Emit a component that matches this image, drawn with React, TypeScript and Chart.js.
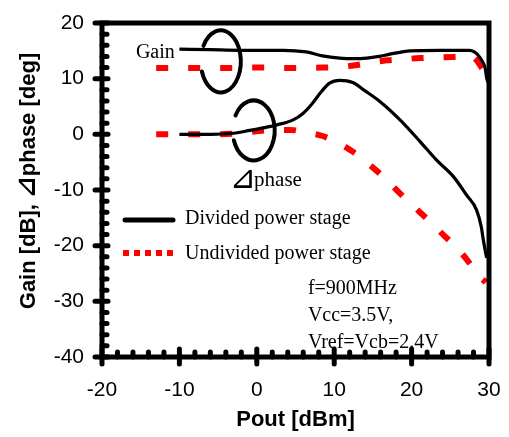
import React, { useEffect, useRef } from 'react';
import { Chart, registerables } from 'chart.js';

Chart.register(...registerables);

// ---- data ----
const seriesNames = ['Divided power stage', 'Undivided power stage'];

const dividedGainX = [-10, -6, -2.2, 0, 3.4, 6.4, 8.5, 10.7, 12.5, 14.2, 15.8, 17.2, 19.8, 23.6, 26, 27.5, 28.1, 28.6, 29.1, 29.5, 29.7, 30];
const dividedGainY = [15.3, 15.2, 15.1, 15.1, 15.1, 14.8, 14.1, 13.7, 13.6, 13.7, 14.0, 14.4, 15.0, 15.1, 15.1, 15.1, 14.8, 14.2, 13.2, 11.9, 10.1, 9.0];

const undividedGainX = [-13, -8, -3, 0, 4.3, 8.5, 10.5, 12.7, 14.8, 16.8, 19, 21.1, 23.3, 25.4, 27, 28, 29, 29.5, 29.9];
const undividedGainY = [11.9, 11.9, 11.9, 12.0, 11.9, 12.0, 12.1, 12.4, 12.9, 13.3, 13.5, 13.7, 13.8, 13.9, 14.0, 13.8, 12.1, 11.0, 9.5];

const dividedPhaseX = [-10, -6, -3, -0.9, 1, 2.6, 4.7, 6, 7.2, 8.3, 9.4, 10.7, 12.4, 14, 15.9, 18.5, 21.1, 23.2, 25.4, 27.1, 28.4, 29, 29.2, 29.5, 29.7];
const dividedPhaseY = [0, 0, 0.2, 0.7, 1.2, 1.7, 2.6, 3.8, 5.6, 7.6, 9.2, 9.7, 9.3, 7.8, 5.9, 2.6, -1.3, -4.6, -7.6, -10.9, -13.6, -16.6, -18.4, -20.8, -22.2];

const undividedPhaseX = [-13, -10, -6, -2, 1, 4.3, 6.5, 8.5, 10.5, 12.7, 14.5, 16.1, 17.7, 19.3, 21, 22.7, 24.2, 25.8, 27.3, 28.6, 29.6];
const undividedPhaseY = [0, 0, 0, 0.2, 0.7, 0.8, 0.3, -0.3, -1.5, -3.4, -5.4, -7.3, -9.5, -11.7, -13.9, -16.1, -18.2, -20.3, -22.8, -25.3, -26.6];

const xMin = -20, xMax = 30, xStep = 10, xMinorStep = 2;
const yMin = -40, yMax = 20, yStep = 10, yMinorStep = 2;

const xTitle = 'Pout [dBm]';
const yTitleParts = ['Gain [dB], ', '\u22BF', 'phase [deg]'];

// annotation texts (anchored in data coordinates)
const gainLabel = { text: 'Gain', x: -10.6, y: 13.7 };
const phaseLabel = { symbol: '\u22BF', text: 'phase', x: -3.3, y: -9.2 };
const conditionLines = ['f=900MHz', 'Vcc=3.5V,', 'Vref=Vcb=2.4V'];
const conditionAnchor = { x: 6.6, y: -28.6 };
const loopCenters = [
  { x: -4.65, y: 13.1 },
  { x: -0.4, y: 0.7 },
];

// ---- styles ----
const SERIF = "'Liberation Serif', 'Times New Roman', serif";
const SANS = "'Liberation Sans', Arial, sans-serif";
const SYMBOL = "'DejaVu Sans', sans-serif";
const BLACK = '#000000';
const RED = '#ff0000';

const toPoints = (xs: number[], ys: number[]) => xs.map((x, i) => ({ x, y: ys[i] }));

const paperPlugin = {
  id: 'paperPlugin',
  afterDatasetsDraw(chart: any) {
    const { ctx, chartArea: a, scales } = chart;
    const xs = scales.x, ys = scales.y;
    ctx.save();
    ctx.strokeStyle = BLACK;
    ctx.fillStyle = BLACK;

    // loops
    ctx.lineWidth = 4;
    ctx.lineCap = 'round';
    const radii = [
      { rx: 20, ry: 31 },
      { rx: 21, ry: 30 },
    ];
    loopCenters.forEach((c, i) => {
      const cx = xs.getPixelForValue(c.x), cy = ys.getPixelForValue(c.y);
      ctx.beginPath();
      ctx.ellipse(cx, cy, radii[i].rx, radii[i].ry, 0, (-150 * Math.PI) / 180, (161 * Math.PI) / 180, false);
      ctx.stroke();
    });

    // frame
    ctx.lineWidth = 5;
    ctx.lineCap = 'butt';
    ctx.lineJoin = 'miter';
    ctx.strokeRect(a.left, a.top, a.right - a.left, a.bottom - a.top);

    // ticks (dots)
    ctx.lineCap = 'round';
    for (let v = yMin; v <= yMax + 1e-9; v += yMinorStep) {
      const py = ys.getPixelForValue(v);
      const major = Math.abs(v % yStep) < 1e-9;
      ctx.beginPath();
      ctx.moveTo(a.left - (major ? 7 : 0), py);
      ctx.lineTo(a.left + (major ? 6 : 5), py);
      ctx.stroke();
    }
    for (let v = xMin; v <= xMax + 1e-9; v += xMinorStep) {
      const px = xs.getPixelForValue(v);
      const major = Math.abs(v % xStep) < 1e-9;
      ctx.beginPath();
      ctx.moveTo(px, a.bottom + (major ? 7 : 0));
      ctx.lineTo(px, a.bottom - (major ? 8 : 5));
      ctx.stroke();
    }

    // legend
    const lx0 = a.left + 21, lx1 = a.left + 73;
    const ly0 = a.top + 197, ly1 = a.top + 230;
    ctx.lineCap = 'round';
    ctx.lineWidth = 5;
    ctx.setLineDash([]);
    ctx.beginPath();
    ctx.moveTo(lx0 + 2, ly0);
    ctx.lineTo(lx1 - 2, ly0);
    ctx.stroke();
    ctx.strokeStyle = RED;
    ctx.lineCap = 'butt';
    ctx.lineWidth = 6;
    ctx.setLineDash([6, 5]);
    ctx.beginPath();
    ctx.moveTo(lx0, ly1);
    ctx.lineTo(lx1, ly1);
    ctx.stroke();
    ctx.setLineDash([]);

    ctx.font = `20px ${SERIF}`;
    ctx.textBaseline = 'alphabetic';
    ctx.textAlign = 'left';
    ctx.fillStyle = BLACK;
    ctx.fillText(seriesNames[0], a.left + 83, ly0 + 4);
    ctx.fillText(seriesNames[1], a.left + 83, ly1 + 6);

    // annotations
    ctx.textAlign = 'right';
    ctx.fillText(gainLabel.text, xs.getPixelForValue(gainLabel.x), ys.getPixelForValue(gainLabel.y));
    ctx.textAlign = 'left';
    const phx = xs.getPixelForValue(phaseLabel.x), phy = ys.getPixelForValue(phaseLabel.y);
    ctx.font = `32px ${SYMBOL}`;
    ctx.fillText(phaseLabel.symbol, phx - 2, phy + 2);
    const symW = ctx.measureText(phaseLabel.symbol).width;
    ctx.font = `21px ${SERIF}`;
    ctx.fillText(phaseLabel.text, phx - 4 + symW, phy);
    ctx.font = `20px ${SERIF}`;
    const cx = xs.getPixelForValue(conditionAnchor.x);
    const cy = ys.getPixelForValue(conditionAnchor.y);
    conditionLines.forEach((t, i) => ctx.fillText(t, cx, cy + i * 27));

    // y-axis title, rotated, with a larger delta symbol
    const fonts = [`bold 22px ${SANS}`, `bold 26px ${SYMBOL}`, `bold 22px ${SANS}`];
    const widths = yTitleParts.map((p, i) => { ctx.font = fonts[i]; return ctx.measureText(p).width; });
    const total = widths.reduce((s, w) => s + w, 0);
    ctx.translate(29, (a.top + a.bottom) / 2 - 9);
    ctx.rotate(-Math.PI / 2);
    ctx.textBaseline = 'middle';
    let pos = -total / 2;
    yTitleParts.forEach((p, i) => {
      ctx.font = fonts[i];
      ctx.fillText(p, pos, i === 1 ? -1 : 0);
      pos += widths[i];
    });

    ctx.restore();
  },
};

export default function App() {
  const ref = useRef<HTMLCanvasElement | null>(null);
  useEffect(() => {
    document.body.style.margin = '0';
    const canvas = ref.current;
    if (!canvas) return;
    const chart = new Chart(canvas, {
      type: 'line',
      data: {
        datasets: [
          {
            label: seriesNames[0] + ' gain',
            data: toPoints(dividedGainX, dividedGainY),
            borderColor: BLACK,
            borderWidth: 3.2,
            pointRadius: 0,
            cubicInterpolationMode: 'monotone',
          },
          {
            label: seriesNames[0] + ' phase',
            data: toPoints(dividedPhaseX, dividedPhaseY),
            borderColor: BLACK,
            borderWidth: 3.2,
            pointRadius: 0,
            cubicInterpolationMode: 'monotone',
          },
          {
            label: seriesNames[1] + ' gain',
            data: toPoints(undividedGainX, undividedGainY),
            borderColor: RED,
            borderWidth: 6,
            borderDash: [12, 20],
            borderCapStyle: 'butt',
            pointRadius: 0,
            cubicInterpolationMode: 'monotone',
          },
          {
            label: seriesNames[1] + ' phase',
            data: toPoints(undividedPhaseX, undividedPhaseY),
            borderColor: RED,
            borderWidth: 6,
            borderDash: [12, 20],
            borderCapStyle: 'butt',
            pointRadius: 0,
            cubicInterpolationMode: 'monotone',
          },
        ],
      },
      options: {
        responsive: false,
        animation: false,
        layout: { padding: { top: 23, right: 20, left: 0, bottom: 0 } },
        plugins: { legend: { display: false }, tooltip: { enabled: false } },
        scales: {
          x: {
            type: 'linear',
            min: xMin,
            max: xMax,
            border: { display: false },
            grid: { display: false, drawTicks: false },
            ticks: { stepSize: xStep, padding: 21, color: BLACK, font: { family: SANS, size: 21 }, maxRotation: 0 },
            title: { display: true, text: xTitle, color: BLACK, font: { family: SANS, size: 22, weight: 'bold' }, padding: { top: 0, bottom: 4 } },
            afterFit: (s: any) => { s.height = 80; s.paddingLeft = 0; s.paddingRight = 0; },
          },
          y: {
            type: 'linear',
            min: yMin,
            max: yMax,
            border: { display: false },
            grid: { display: false, drawTicks: false },
            ticks: { stepSize: yStep, padding: 18, color: BLACK, font: { family: SANS, size: 21 } },
            title: { display: false },
            afterFit: (s: any) => { s.width = 102; s.paddingTop = 0; s.paddingBottom = 0; },
          },
        },
      },
      plugins: [paperPlugin],
    } as any);
    return () => chart.destroy();
  }, []);
  return <canvas ref={ref} width={509} height={437} style={{ display: 'block' }} />;
}
